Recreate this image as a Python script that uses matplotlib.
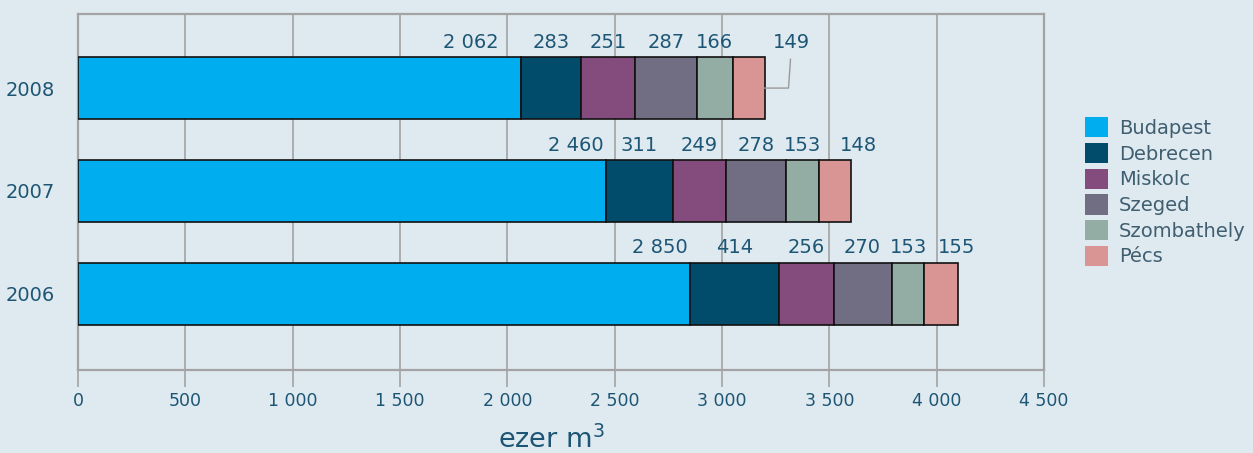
import matplotlib
matplotlib.use("Agg")
import matplotlib.pyplot as plt
import numpy as np

years = ["2006", "2007", "2008"]
cities = ["Budapest", "Debrecen", "Miskolc", "Szeged", "Szombathely", "Pécs"]
budapest = [2850, 2460, 2062]
debrecen = [414, 311, 283]
miskolc = [256, 249, 251]
szeged = [270, 278, 287]
szombathely = [153, 153, 166]
pecs = [155, 148, 149]
series = [budapest, debrecen, miskolc, szeged, szombathely, pecs]
colors = ["#00aeef", "#014b6b", "#834c7c", "#716e84", "#93ada5", "#d99594"]
xticks = [0, 500, 1000, 1500, 2000, 2500, 3000, 3500, 4000, 4500]
xticklabels = ["0", "500", "1 000", "1 500", "2 000", "2 500", "3 000", "3 500", "4 000", "4 500"]

bg = "#dfe9f0"
txt = "#1d5674"
gridc = "#a3a3a3"

plt.rcParams['font.family'] = ['DejaVu Sans']
fig = plt.figure(figsize=(12.53, 4.53), dpi=100, facecolor=bg)
ax = fig.add_axes([78/1253, 1 - 370/453, (1044-78)/1253, (370-14)/453])
ax.set_facecolor(bg)

y = np.arange(len(years))
left = np.zeros(len(years))
for vals, col, name in zip(series, colors, cities):
    ax.barh(y, vals, left=left, height=0.6, color=col, edgecolor="#111111",
            linewidth=1.2, label=name, zorder=3)
    left = left + np.array(vals)

def fmt(v):
    return f"{v:,}".replace(",", " ")

# labels
px_per_unit = 966 / 4500.0
for i in range(len(years)):
    starts = np.cumsum([0] + [s[i] for s in series])[:-1]
    for k, s in enumerate(series):
        v = s[i]
        xc = starts[k] + v / 2.0
        ha = "center"
        if k == 0:
            xc = starts[k] + v
            ha = "right"
            shift = -22 if years[i] == "2008" else -2
            xc += shift / px_per_unit
        if k == len(series) - 1:
            shift = {"2006": 15, "2007": 24, "2008": 43}[years[i]]
            xc += shift / px_per_unit
        ax.annotate(fmt(v), (xc, y[i] + 0.3), xytext=(0, 4), textcoords="offset points",
                    ha=ha, va="bottom", fontsize=14, color=txt, zorder=5)

# leader line for 2008 Pécs
i2008 = years.index("2008")
end = sum(s[i2008] for s in series)
xl = end + 24 / px_per_unit
xl2 = end + 26 / px_per_unit
ax.plot([end, xl, xl2], [y[i2008], y[i2008], y[i2008] + 0.28], color="#9a9a9a",
        linewidth=1, zorder=4)

ax.set_xlim(0, 4500)
ax.set_ylim(-0.74, 2.72)
ax.set_xticks(xticks)
ax.set_xticklabels(xticklabels, fontsize=12.5, color=txt)
ax.set_yticks(y)
ax.set_yticklabels(years, fontsize=14, color=txt)
ax.tick_params(axis="y", length=0, pad=17)
ax.tick_params(axis="x", length=12.5, width=1.2, color=gridc, pad=3)
ax.grid(axis="x", color=gridc, linewidth=1.2, zorder=0)
for sp in ax.spines.values():
    sp.set_color(gridc)
    sp.set_linewidth(1.6)

ax.set_xlabel("ezer m$^3$", fontsize=19.5, color=txt)
ax.xaxis.set_label_coords(0.49, -0.155)

leg = ax.legend(loc="upper left", bbox_to_anchor=(1.042, 0.71), frameon=False,
                fontsize=14, handlelength=1.22, handleheight=1.22, handletextpad=0.55,
                labelspacing=0.26, borderaxespad=0, borderpad=0)
for t in leg.get_texts():
    t.set_color("#3f5f70")
for h in leg.legend_handles:
    h.set_edgecolor("none")

fig.savefig("out.png", dpi=100, facecolor=bg)
